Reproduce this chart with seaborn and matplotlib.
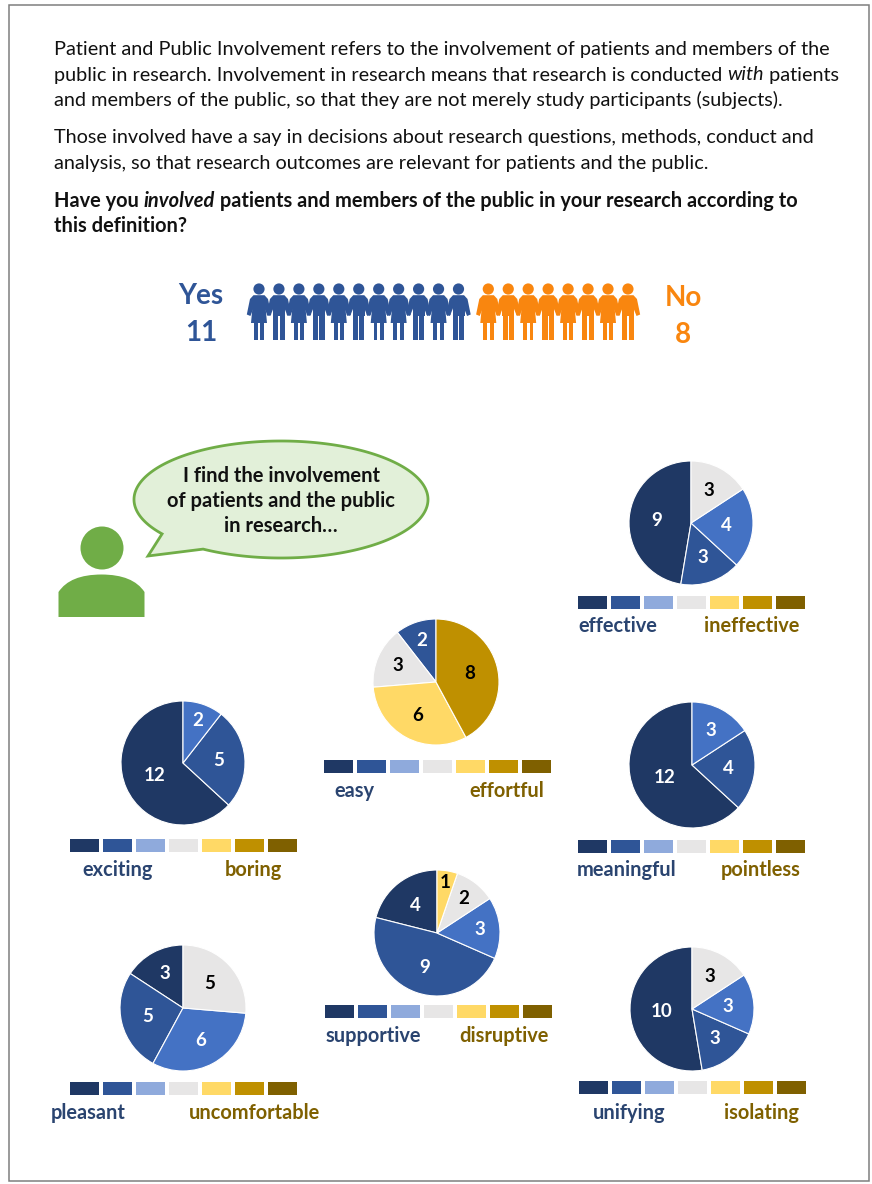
import numpy as np
import matplotlib
matplotlib.use("Agg")
import matplotlib.pyplot as plt
from matplotlib.patches import Rectangle, Circle, Polygon, PathPatch
from matplotlib.path import Path
import seaborn as sns

# Survey results
scale_levels = ["1", "2", "3", "4", "5", "6", "7"]
involved_yes = 11
involved_no = 8
yes_figures = ["w", "m", "w", "m", "w", "m", "w", "w", "m", "w", "m"]
no_figures = ["w", "m", "w", "m", "w", "m", "w", "m"]

effective_counts = [9, 3, 4, 3, 0, 0, 0]
easy_counts = [0, 2, 0, 3, 6, 8, 0]
exciting_counts = [12, 5, 2, 0, 0, 0, 0]
meaningful_counts = [12, 4, 3, 0, 0, 0, 0]
supportive_counts = [4, 9, 3, 2, 1, 0, 0]
pleasant_counts = [3, 5, 6, 5, 0, 0, 0]
unifying_counts = [10, 3, 3, 3, 0, 0, 0]

intro_lines = [
    [("Patient and Public Involvement refers to the involvement of patients and members of the", "normal", "normal")],
    [("public in research. Involvement in research means that research is conducted ", "normal", "normal"),
     ("with", "italic", "normal"), (" patients", "normal", "normal")],
    [("and members of the public, so that they are not merely study participants (subjects).", "normal", "normal")],
    [("Those involved have a say in decisions about research questions, methods, conduct and", "normal", "normal")],
    [("analysis, so that research outcomes are relevant for patients and the public.", "normal", "normal")],
    [("Have you ", "normal", "bold"), ("involved", "italic", "bold"),
     (" patients and members of the public in your research according to", "normal", "bold")],
    [("this definition?", "normal", "bold")],
]
intro_y = [50, 75, 100, 138, 163, 201, 226]

W, H = 872, 1184
sns.set_theme(style="white")
plt.rcParams["font.family"] = ["Lato", "DejaVu Sans"]

pie_colors = sns.color_palette(["#1F3864", "#2F5597", "#4472C4", "#E7E6E6", "#FFD966", "#BF9000", "#7F6000"])
swatch_colors = sns.color_palette(["#1F3864", "#2F5597", "#8FAADC", "#E7E6E6", "#FFD966", "#BF9000", "#7F6000"])
label_on_dark = [True, True, True, False, False, False, False]
BLUE = "#2F5597"
ORANGE = "#F9860F"
GREEN = "#70AD47"

fig = plt.figure(figsize=(W / 100, H / 100), dpi=100, facecolor="white")
ax = fig.add_axes([0, 0, 1, 1])
ax.set_xlim(0, W)
ax.set_ylim(H, 0)
ax.axis("off")

ax.add_patch(Rectangle((8.5, 4.5), 860, 1176, fill=False, ec="#7F7F7F", lw=1.1))

# Intro text, laid out run by run so italics sit inline
renderer = fig.canvas.get_renderer()
for line, y in zip(intro_lines, intro_y):
    x = 54
    for txt, style, weight in line:
        size = 14.4 if weight == "bold" else 14.3
        t = ax.text(x, y, txt.replace(" ", "\u00a0"), fontsize=size, style=style, weight=weight,
                    color="#111111", va="center", ha="left", fontfamily=["Lato", "DejaVu Sans"])
        x += t.get_window_extent(renderer).width


def person(cx, kind, color):
    """Figure with arms reaching down to its neighbours' hands, feet at y=340."""
    ax.add_patch(Circle((cx, 289), 5.6, fc=color, ec="none"))
    arms = [(cx - 12.2, 314.5), (cx - 9, 299), (cx - 5.5, 295.2), (cx + 5.5, 295.2), (cx + 9, 299), (cx + 12.2, 314.5),
            (cx + 8.6, 316), (cx + 5, 307), (cx - 5, 307), (cx - 8.6, 316)]
    ax.add_patch(Polygon(arms, fc=color, ec="none"))
    if kind == "w":
        ax.add_patch(Polygon([(cx - 5.5, 296), (cx + 5.5, 296), (cx + 8, 323), (cx - 8, 323)], fc=color, ec="none"))
        ax.add_patch(Rectangle((cx - 5.2, 322), 3.9, 18, fc=color, ec="none"))
        ax.add_patch(Rectangle((cx + 1.3, 322), 3.9, 18, fc=color, ec="none"))
    else:
        ax.add_patch(Rectangle((cx - 6, 296), 12, 20, fc=color, ec="none"))
        ax.add_patch(Rectangle((cx - 5.7, 314), 5.1, 26, fc=color, ec="none"))
        ax.add_patch(Rectangle((cx + 0.6, 314), 5.1, 26, fc=color, ec="none"))


for i in range(involved_yes):
    person(259 + i * 19.95, yes_figures[i], BLUE)
for i in range(involved_no):
    person(488.3 + i * 19.95, no_figures[i], ORANGE)

for x, y, s, c in [(201, 296, "Yes", BLUE), (201, 333, str(involved_yes), BLUE),
                   (683, 298, "No", ORANGE), (683, 335, str(involved_no), ORANGE)]:
    ax.text(x, y, s, fontsize=20, weight="bold", color=c, ha="center", va="center")

# Speaker icon and speech bubble
ax.add_patch(Circle((102, 548), 21.5, fc=GREEN, ec="none"))
body = Path([(58.5, 617), (58.5, 592), (70, 574.5), (101.5, 574.5), (133, 574.5), (144.5, 592), (144.5, 617), (58.5, 617)],
            [Path.MOVETO, Path.LINETO, Path.CURVE3, Path.CURVE3, Path.CURVE3, Path.CURVE3, Path.LINETO, Path.CLOSEPOLY])
ax.add_patch(PathPatch(body, fc=GREEN, ec="none"))

bx, by, brx, bry = 281, 499.5, 147, 58.5
arc = np.radians(np.linspace(144, 360 + 122, 300))
outline = [(bx + brx * np.cos(a), by + bry * np.sin(a)) for a in arc]
outline.append((148, 556))
ax.add_patch(Polygon(outline, closed=True, fc="#E2F0D9", ec=GREEN, lw=2, joinstyle="miter"))
for y, s in zip([476, 501, 526], ["I find the involvement", "of patients and the public", "in research…"]):
    ax.text(281, y, s, fontsize=14.5, weight="bold", color="#111111", ha="center", va="center")

# One pie per word pair: values, centre, radius, swatch origin, labels and their centres, value-label radii
items = [
    (effective_counts, (691, 523), 62, (578, 596), "effective", 618, "ineffective", 752, 626, [0.56, 0.58, 0.58, 0.6]),
    (easy_counts, (436, 682), 63, (324, 760), "easy", 354, "effortful", 507, 791, [0.7, 0.66, 0.6, 0.55]),
    (exciting_counts, (183, 763), 62, (70, 839), "exciting", 118, "boring", 253, 870, [0.5, 0.58, 0.72]),
    (meaningful_counts, (692, 765), 63, (578, 840), "meaningful", 627, "pointless", 761, 870, [0.48, 0.58, 0.62]),
    (supportive_counts, (437, 933), 63, (325, 1005), "supportive", 373, "disruptive", 504, 1036, [0.55, 0.58, 0.68, 0.7, 0.82]),
    (pleasant_counts, (183, 1008), 63, (70, 1082), "pleasant", 88, "uncomfortable", 254, 1113, [0.62, 0.58, 0.58, 0.58]),
    (unifying_counts, (692, 1009), 62, (579, 1081), "unifying", 629, "isolating", 761, 1113, [0.5, 0.6, 0.58, 0.6]),
]

for counts, (cx, cy), r, (sx, sy), left, lx, right, rx, ly, radii in items:
    pad = r + 2
    pie_ax = fig.add_axes([(cx - pad) / W, 1 - (cy + pad) / H, 2 * pad / W, 2 * pad / H])
    shown = [i for i, c in enumerate(counts) if c > 0]
    wedges, _ = pie_ax.pie([counts[i] for i in shown], colors=[pie_colors[i] for i in shown],
                           startangle=90, counterclock=True,
                           wedgeprops={"edgecolor": "white", "linewidth": 0.8})
    pie_ax.set_xlim(-pad / r, pad / r)
    pie_ax.set_ylim(-pad / r, pad / r)
    for w, i, rad in zip(wedges, shown, radii):
        mid = np.radians((w.theta1 + w.theta2) / 2)
        pie_ax.text(rad * np.cos(mid), rad * np.sin(mid), str(counts[i]), fontsize=13.5, weight="bold",
                    color="white" if label_on_dark[i] else "black", ha="center", va="center")
    for j in range(len(scale_levels)):
        ax.add_patch(Rectangle((sx + j * 33, sy), 29, 13, fc=swatch_colors[j], ec="none"))
    ax.text(lx, ly, left, fontsize=14.4, weight="bold", color="#2A4470", ha="center", va="center")
    ax.text(rx, ly, right, fontsize=14.4, weight="bold", color="#7F6000", ha="center", va="center")

fig.savefig("out.png", dpi=100, facecolor="white")
